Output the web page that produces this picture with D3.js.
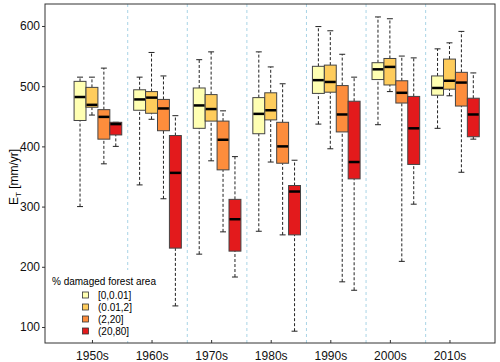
<!DOCTYPE html>
<html>
<head>
	<meta charset="utf-8">
	<title></title>
	<style type="text/css">
body {
  margin: 0;
  background: #fff;
}

text {
  font-family: "Liberation Sans", Arial, sans-serif;
}

.whisker {
  stroke: #222;
  stroke-dasharray: 3,2;
}
	</style>
</head>
<body>
	<svg width="500" height="362"></svg>

	<script src="https://d3js.org/d3.v7.min.js"></script>
	<script type="text/javascript">
		// decades on the x axis and the four damage classes
		var decades = ["1950s", "1960s", "1970s", "1980s", "1990s", "2000s", "2010s"]
		var classes = ["[0,0.01]", "(0.01,2]", "(2,20]", "(20,80]"]
		var colors = ["#ffffb2", "#fecc5c", "#fd8d3c", "#e31a1c"]
		var yTicks = [100, 200, 300, 400, 500, 600]

		// [whisker low, Q1, median, Q3, whisker high] per decade
		var class1 = [
			[300, 443, 482, 508, 515],
			[336, 460, 478, 494, 515],
			[221, 430, 468, 497, 544],
			[259, 421, 454, 481, 557],
			[437, 488, 510, 533, 599],
			[436, 511, 528, 539, 615],
			[430, 485, 497, 517, 562]
		]
		var class2 = [
			[452, 465, 469, 498, 515],
			[445, 455, 481, 491, 556],
			[376, 442, 462, 486, 557],
			[374, 444, 460, 489, 532],
			[396, 490, 507, 535, 592],
			[491, 502, 532, 546, 612],
			[484, 495, 509, 545, 572]
		]
		var class3 = [
			[371, 412, 449, 461, 530],
			[313, 426, 463, 478, 517],
			[258, 361, 411, 442, 459],
			[253, 372, 400, 440, 504],
			[175, 424, 453, 501, 553],
			[209, 472, 489, 509, 550],
			[357, 467, 506, 523, 591]
		]
		var class4 = [
			[400, 419, 437, 440, 440],
			[135, 231, 356, 418, 451],
			[183, 226, 279, 312, 383],
			[93, 253, 325, 335, 377],
			[161, 346, 374, 475, 515],
			[304, 370, 430, 483, 547],
			[412, 416, 453, 480, 522]
		]
		var allClasses = [class1, class2, class3, class4]

		var svg = d3.select("svg")
		var mLeft = 45, mRight = 495, mTop = 4, mBottom = 343

		// each decade takes 5 slots: 4 boxes and one empty slot
		var x = d3.scaleLinear().domain([-2.94, 34.82]).range([mLeft, mRight])
		var y = d3.scaleLinear().domain([73.4, 636.5]).range([mBottom, mTop])
		var slotW = x(1) - x(0)

		var boxes = []
		allClasses.forEach(function(cls, c) {
			cls.forEach(function(s, d) {
				boxes.push({ slot: d * 5 + c, c: c, s: s })
			})
		})

		// separators between decades
		svg.append("g")
			.selectAll("line")
			.data(decades.slice(0, -1))
			.enter().append("line")
				.attr("x1", function(d, i) { return x(i * 5 + 4) })
				.attr("x2", function(d, i) { return x(i * 5 + 4) })
				.attr("y1", mTop)
				.attr("y2", mBottom)
				.attr("stroke", "#a9d4e6")
				.attr("stroke-dasharray", "3,3")

		var g = svg.append("g")
			.selectAll("g")
			.data(boxes)
			.enter().append("g")
				.attr("transform", function(d) { return "translate(" + x(d.slot) + ",0)" })

		g.append("line")
			.attr("class", "whisker")
			.attr("x1", 0).attr("x2", 0)
			.attr("y1", function(d) { return y(d.s[0]) })
			.attr("y2", function(d) { return y(d.s[1]) })
		g.append("line")
			.attr("class", "whisker")
			.attr("x1", 0).attr("x2", 0)
			.attr("y1", function(d) { return y(d.s[3]) })
			.attr("y2", function(d) { return y(d.s[4]) })

		// staples
		g.selectAll(".cap")
			.data(function(d) { return [d.s[0], d.s[4]] })
			.enter().append("line")
				.attr("x1", -slotW / 4).attr("x2", slotW / 4)
				.attr("y1", function(v) { return y(v) })
				.attr("y2", function(v) { return y(v) })
				.attr("stroke", "#222")

		g.append("rect")
			.attr("x", -slotW / 2)
			.attr("width", slotW)
			.attr("y", function(d) { return y(d.s[3]) })
			.attr("height", function(d) { return y(d.s[1]) - y(d.s[3]) })
			.attr("fill", function(d) { return colors[d.c] })
			.attr("stroke", "#444")

		g.append("line")
			.attr("x1", -slotW / 2 + 0.5).attr("x2", slotW / 2 - 0.5)
			.attr("y1", function(d) { return y(d.s[2]) })
			.attr("y2", function(d) { return y(d.s[2]) })
			.attr("stroke", "#000")
			.attr("stroke-width", 2.5)

		// legend, on a white patch
		var lg = svg.append("g")
		lg.append("rect")
			.attr("x", 47).attr("y", 270)
			.attr("width", 115).attr("height", 71)
			.attr("fill", "#fff")
		lg.append("text")
			.attr("x", 52).attr("y", 285)
			.attr("font-size", 10)
			.text("% damaged forest area")
		var item = lg.selectAll(".item")
			.data(classes)
			.enter().append("g")
				.attr("transform", function(d, i) { return "translate(82," + (295 + i * 12) + ")" })
		item.append("rect")
			.attr("x", 0.5).attr("y", -3)
			.attr("width", 6).attr("height", 6)
			.attr("fill", function(d, i) { return colors[i] })
			.attr("stroke", "#333")
			.attr("stroke-width", 0.8)
		item.append("text")
			.attr("x", 16).attr("y", 3.6)
			.attr("font-size", 10)
			.text(function(d) { return d })

		// axes
		var yAxis = svg.append("g")
			.attr("transform", "translate(" + mLeft + ",0)")
			.call(d3.axisLeft(y).tickValues(yTicks).tickSize(3).tickPadding(2))
		yAxis.select(".domain").remove()
		yAxis.selectAll("text").attr("font-size", 12).attr("font-family", "Liberation Sans, Arial, sans-serif").attr("fill", "#111")
		yAxis.selectAll("line").attr("stroke", "#333")

		var xAxis = svg.append("g")
			.attr("transform", "translate(0," + mBottom + ")")
			.call(d3.axisBottom(x).tickValues(decades.map(function(d, i) { return i * 5 + 1 }))
				.tickFormat(function(d, i) { return decades[i] })
				.tickSize(-3).tickPadding(8))
		xAxis.select(".domain").remove()
		xAxis.selectAll("text").attr("font-size", 12).attr("font-family", "Liberation Sans, Arial, sans-serif").attr("fill", "#111")
		xAxis.selectAll("line").attr("stroke", "#333")

		svg.append("rect")
			.attr("x", mLeft).attr("y", mTop)
			.attr("width", mRight - mLeft).attr("height", mBottom - mTop)
			.attr("fill", "none")
			.attr("stroke", "#333")

		var ylab = svg.append("text")
			.attr("transform", "translate(18,177) rotate(-90)")
			.attr("text-anchor", "middle")
			.attr("font-size", 12)
		ylab.append("tspan").text("E")
		ylab.append("tspan").attr("font-size", 8).attr("dy", 3).text("T")
		ylab.append("tspan").attr("dy", -3).text(" [mm/yr]")
	</script>
</body>
</html>
